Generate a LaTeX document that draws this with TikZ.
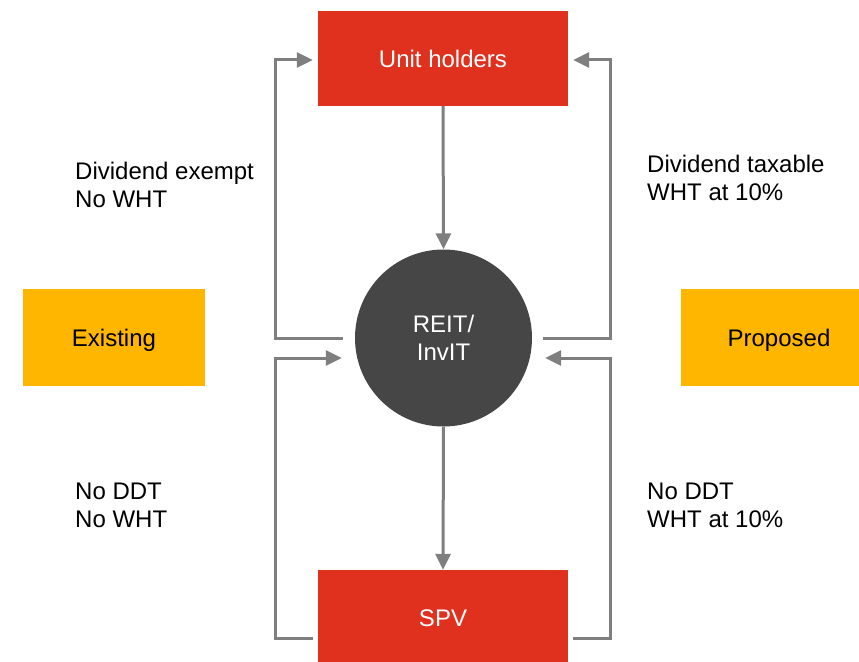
\documentclass[tikz,border=0pt]{standalone}
\usepackage{fontspec}
\setmainfont{Liberation Sans}
\usetikzlibrary{arrows.meta}
\definecolor{boxred}{HTML}{E0301E}
\definecolor{boxorange}{HTML}{FFB600}
\definecolor{circfill}{HTML}{464646}
\definecolor{arrgray}{HTML}{7F7F7F}
\begin{document}
\begin{tikzpicture}[x=1pt,y=-1pt,
  font=\fontsize{24}{28}\selectfont,
  redbox/.style={fill=boxred, text=white, minimum width=250pt, inner sep=0pt, text depth=0pt},
  orangebox/.style={fill=boxorange, text=black, minimum height=97pt, inner sep=0pt, text depth=0pt},
  hub/.style={circle, fill=circfill, text=white, align=center, minimum size=177pt, inner sep=0pt, text depth=0pt},
  conn/.style={draw=arrgray, line width=3pt, -{Triangle[length=16pt,width=15pt]}},
  lbl/.style={anchor=base west, align=left, inner sep=0pt}]
\useasboundingbox (0,0) rectangle (859,661);
\coordinate (L) at (275,0);
\coordinate (R) at (610,0);
\node[redbox, minimum height=95pt] (uh) at (443,58.5) {Unit holders};
\node[redbox, minimum height=97pt] (spv) at (443,618.5) {SPV};
\node[hub] (reit) at (443.5,338) {REIT/\\InvIT};
\node[orangebox, minimum width=182pt] (ex) at (114,337.5) {Existing};
\node[orangebox, minimum width=196pt] (pr) at (779,337.5) {Proposed};
% vertical flow
\draw[conn] (uh.south) -- (reit.north);
\draw[conn] (reit.south) -- (spv.north);
% left side
\draw[conn] ([shift={(-12,0)}]reit.west) -- (L |- reit.west) |- ([shift={(-5,1.5)}]uh.west);
\draw[conn] ([shift={(-5,19.5)}]spv.west) -- (L |- 0,638) |- ([shift={(-13,20)}]reit.west);
% right side
\draw[conn] ([shift={(11,0)}]reit.east) -- (R |- reit.east) |- ([shift={(5,1.5)}]uh.east);
\draw[conn] ([shift={(5,19.5)}]spv.east) -- (R |- 0,638) |- ([shift={(13,20)}]reit.east);
% labels
\node[lbl] (t1) at (75,207) {Dividend exempt\\No WHT};
\node[lbl] (t2) at (647,200) {Dividend taxable\\WHT at 10\%};
\node[lbl] (t3) at (75,527) {No DDT\\No WHT};
\node[lbl] (t4) at (647,527) {No DDT\\WHT at 10\%};
\end{tikzpicture}
\end{document}
